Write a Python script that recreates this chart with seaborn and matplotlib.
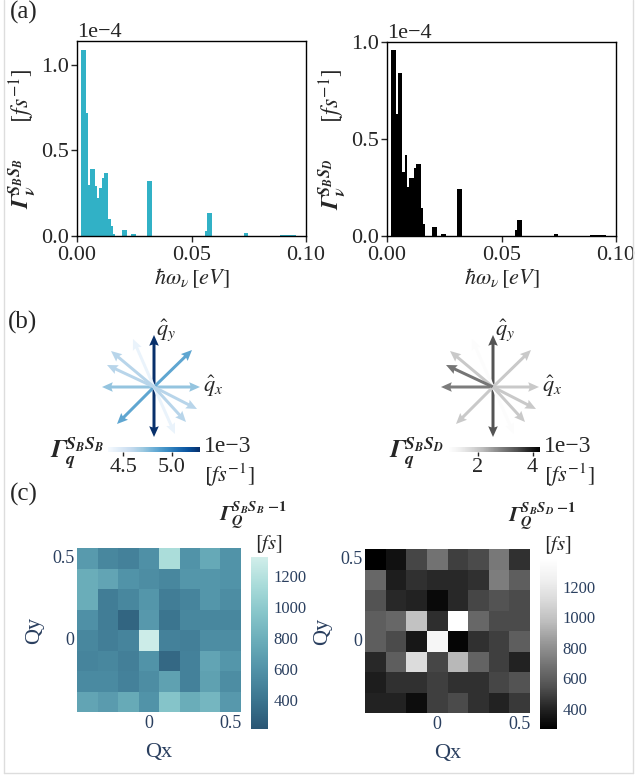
import numpy as np
import matplotlib
matplotlib.use('Agg')
import matplotlib.pyplot as plt
import seaborn as sns
from matplotlib.colors import LinearSegmentedColormap, Normalize
from matplotlib.cm import ScalarMappable

sns.set_style('white')
plt.rcParams['font.family'] = ['Liberation Serif', 'DejaVu Serif']
plt.rcParams['mathtext.fontset'] = 'stix'

# (a) phonon mode resolved rates, units 1e-4 fs^-1
freq_bins = [0.00225, 0.00325, 0.00425, 0.00525, 0.00625, 0.00725, 0.00825, 0.00925,
             0.01025, 0.01125, 0.01225, 0.01325, 0.01425, 0.01525, 0.01625,
             0.02025, 0.02125, 0.02425, 0.02525, 0.03125, 0.03225,
             0.05625, 0.05725, 0.05825, 0.07325, 0.07425,
             0.08925, 0.09025, 0.09125, 0.09225, 0.09325, 0.09425, 0.09525]
rate_bb = [1.09, 1.09, 0.72, 0.30, 0.39, 0.39, 0.29, 0.22,
           0.28, 0.34, 0.37, 0.37, 0.10, 0.06, 0.012,
           0.035, 0.035, 0.01, 0.01, 0.32, 0.32,
           0.03, 0.135, 0.135, 0.018, 0.018,
           0.005, 0.005, 0.005, 0.008, 0.008, 0.006, 0.005]
rate_bd = [0.96, 0.96, 0.63, 0.84, 0.84, 0.33, 0.42, 0.255,
           0.30, 0.30, 0.35, 0.37, 0.37, 0.146, 0.06,
           0.048, 0.048, 0.01, 0.01, 0.24, 0.24,
           0.03, 0.083, 0.083, 0.01, 0.01,
           0.005, 0.005, 0.005, 0.007, 0.007, 0.005, 0.004]

# (b) q-direction arrows
q_u = [0.0, 0.0, 0.92, -1.04, 0.76, -0.74, -0.42, 0.42, -0.86, -0.94, 0.86, 0.64]
q_v = [1.04, -1.0, 0.0, 0.0, 0.74, -0.74, 0.96, -0.94, 0.72, 0.44, -0.44, -0.70]
gam_q_bb = [5.29, 5.29, 4.72, 4.72, 4.85, 4.85, 4.40, 4.40, 4.62, 4.62, 4.62, 4.62]  # 1e-3
gam_q_bd = [3.4, 3.4, 2.0, 2.9, 2.0, 2.0, 1.0, 1.0, 2.0, 3.0, 2.0, 2.0]  # 1e-3

# (c) inverse rates on Q grid [fs]
q_x = ['-0.375', '-0.25', '-0.125', '0', '0.125', '0.25', '0.375', '0.5']
q_y = ['0.5', '0.375', '0.25', '0.125', '0', '-0.125', '-0.25', '-0.375']
tau_bb = [[650, 520, 480, 580, 1150, 600, 750, 600],
          [780, 720, 600, 560, 520, 620, 620, 600],
          [780, 450, 520, 620, 450, 500, 620, 560],
          [580, 450, 300, 640, 400, 520, 520, 520],
          [520, 460, 500, 1300, 480, 470, 560, 560],
          [500, 520, 470, 600, 320, 480, 720, 620],
          [540, 540, 480, 560, 700, 480, 700, 560],
          [720, 660, 760, 600, 950, 780, 850, 640]]
tau_bd = [[270, 335, 510, 685, 490, 530, 710, 445],
          [640, 380, 445, 420, 420, 445, 730, 600],
          [555, 420, 400, 305, 420, 510, 555, 530],
          [600, 640, 990, 435, 1387, 640, 530, 530],
          [600, 530, 360, 1300, 290, 445, 490, 600],
          [420, 600, 1125, 510, 950, 620, 490, 400],
          [380, 445, 445, 490, 445, 445, 510, 555],
          [400, 400, 320, 490, 530, 445, 400, 470]]

W, H = 636, 777
fig = plt.figure(figsize=(W / 100, H / 100), dpi=100)


def px(l, t, w, h):
    return [l / W, 1 - (t + h) / H, w / W, h / H]


navy = '#2a3f5f'
teal = LinearSegmentedColormap.from_list(
    'teal_r', ['#2a5674', '#3b758f', '#4f90a6', '#68abb8', '#85c4c9', '#a8dbd9', '#d1eeea'])

# ---------- (a) histograms
for pos, rates, col, ymax, sup in [((77, 41, 229, 195), rate_bb, '#31b1c6', 1.14, 'S_BS_B'),
                                   ((387, 42, 229, 194), rate_bd, 'black', 1.0, 'S_BS_D')]:
    ax = fig.add_axes(px(*pos))
    sns.histplot(x=freq_bins, weights=np.array(rates) * 1e-4, binwidth=0.001,
                 binrange=(0.00175, 0.09675), color=col, edgecolor='none', alpha=1, ax=ax)
    ax.set_xlim(0, 0.1)
    ax.set_ylim(0, ymax * 1e-4)
    ax.set_xticks([0, 0.05, 0.1])
    ax.set_xticklabels(['0.00', '0.05', '0.10'])
    ax.set_yticks([0, 0.5e-4, 1e-4])
    ax.ticklabel_format(axis='y', style='sci', scilimits=(0, 0))
    ax.yaxis.get_offset_text().set_fontsize(16)
    ax.tick_params(labelsize=16, length=4, width=1, direction='out', left=True, bottom=True)
    ax.tick_params(axis='x', pad=3)
    ax.tick_params(axis='y', pad=2)
    for s in ax.spines.values():
        s.set_color('black')
        s.set_linewidth(1)
    ax.set_xlabel(r'$\hbar\omega_\nu\,[eV]$', fontsize=16, labelpad=1)
    ax.set_ylabel(r'$\mathbfit{\Gamma}_{\mathbfit{\nu}}^{\mathbfit{' + sup + r'}}$      $[fs^{-1}]$',
                  fontsize=17, labelpad=1)

# ---------- (b) arrows
for cx, vals, cmap, vlo, vhi, ticks, tlabs, sup, cbx in [
        (154, gam_q_bb, 'Blues', 4.34, 5.29, [4.5, 5.0], ['4.5', '5.0'], 'S_BS_B', 108),
        (493, gam_q_bd, 'Greys', 0.92, 4.27, [2, 4], ['2', '4'], 'S_BS_D', 448)]:
    ax = fig.add_axes(px(cx - 65, 387 - 65, 130, 130))
    norm = Normalize(vlo, vhi)
    ax.quiver(np.zeros(len(q_u)), np.zeros(len(q_u)), q_u, q_v, vals, cmap=cmap, norm=norm,
              angles='xy', scale_units='xy', scale=1, width=0.023,
              headwidth=3.2, headlength=3.6, headaxislength=3.2)
    ax.set_xlim(-1.3, 1.3)
    ax.set_ylim(-1.3, 1.3)
    ax.axis('off')
    ax.text(0.04, 1.13, r'$\hat{q}_y$', fontsize=16, ha='left', va='center')
    ax.text(0.98, 0.02, r'$\hat{q}_x$', fontsize=16, ha='left', va='center')
    cax = fig.add_axes(px(cbx, 447, 92, 5))
    cb = fig.colorbar(ScalarMappable(norm=norm, cmap=cmap), cax=cax, orientation='horizontal')
    cb.outline.set_visible(False)
    cb.set_ticks(ticks)
    cb.set_ticklabels(tlabs)
    cax.tick_params(labelsize=16, length=3, width=1, pad=1)
    fig.text((cbx + 96) / W, 1 - 447 / H, '1e\u22123', fontsize=17, ha='left', va='center')
    fig.text((cbx + 96) / W, 1 - 475 / H, r'$[fs^{-1}]$', fontsize=16, ha='left', va='center')
    fig.text((cbx - 4) / W, 1 - 453 / H, r'$\mathbfit{\Gamma}_{\mathbfit{q}}^{\mathbfit{' + sup + r'}}$',
             fontsize=18, ha='right', va='center')

# ---------- (c) heatmaps
for pos, cpos, data, cmap, vlo, vhi, sup in [
        ((77, 548, 164, 164), (251, 557, 17, 172), tau_bb, teal, 210, 1322, 'S_BS_B'),
        ((365, 549, 165, 164), (540, 558, 17, 171), tau_bd, 'Greys_r', 269, 1387, 'S_BS_D')]:
    ax = fig.add_axes(px(*pos))
    cax = fig.add_axes(px(*cpos))
    sns.heatmap(np.array(data), ax=ax, cbar_ax=cax, cmap=cmap, vmin=vlo, vmax=vhi,
                xticklabels=q_x, yticklabels=q_y, square=False)
    ax.set_xticks([3.5, 7.5])
    ax.set_xticklabels(['0', '0.5'], rotation=0)
    ax.set_yticks([0.5, 4.5])
    ax.set_yticklabels(['0.5', '0'], rotation=0)
    ax.tick_params(length=0, labelsize=13, labelcolor=navy, pad=2)
    ax.set_xlabel('Qx', fontsize=16, color=navy, labelpad=8)
    ax.set_ylabel('Qy', fontsize=16, color=navy, labelpad=6)
    cax.set_yticks([400, 600, 800, 1000, 1200])
    cax.tick_params(length=0, labelsize=12, labelcolor=navy, pad=4)
    l, t, w, h = cpos
    fig.text((l + 36) / W, 1 - (t - 42) / H,
             r'$\mathbfit{\Gamma}_{\mathbfit{Q}}^{\mathbfit{' + sup + r'}\ \mathbf{-1}}$',
             fontsize=15, ha='right', va='center')
    fig.text((l + 18) / W, 1 - (t - 13) / H, r'$[fs]$', fontsize=15, ha='center', va='center')

# panel letters
fig.text(10 / W, 1 - 12 / H, '(a)', fontsize=18, va='center')
fig.text(8 / W, 1 - 322 / H, '(b)', fontsize=18, va='center')
fig.text(10 / W, 1 - 494 / H, '(c)', fontsize=18, va='center')

# light frame
for xs, ys in [([4, 4], [0, 773]), ([633, 633], [0, 773]), ([4, 633], [773, 773])]:
    fig.add_artist(plt.Line2D([x / W for x in xs], [1 - y / H for y in ys], color='#dddddd', lw=1))

fig.savefig('out.png', dpi=100)
